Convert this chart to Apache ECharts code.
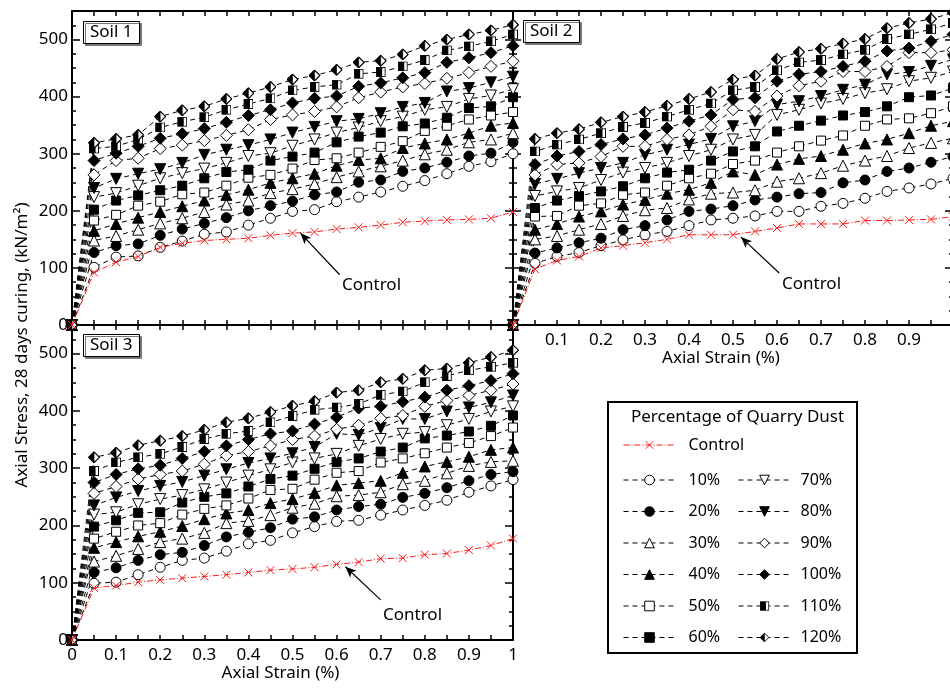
<!DOCTYPE html>
<html><head><meta charset="utf-8">
<script src="https://cdn.jsdelivr.net/npm/echarts@6/dist/echarts.min.js"></script>
<style>html,body{margin:0;padding:0;background:#fff}#c{width:950px;height:691px}</style>
</head><body><div id="c"></div>
<script>
// ---------------- DATA ----------------
const strain = [0,0.05,0.1,0.15,0.2,0.25,0.3,0.35,0.4,0.45,0.5,0.55,0.6,0.65,0.7,0.75,0.8,0.85,0.9,0.95,1];
const pctNames = ['10%','20%','30%','40%','50%','60%','70%','80%','90%','100%','110%','120%'];
const soilNames = ['Soil 1','Soil 2','Soil 3'];

// Soil 1
const s1_control = [0,92,110,120,136,143,148,150,152,157,161,163,168,171,175,180,182,184,185,187,198];
const s1_10  = [0,101,119,121,136,147,159,163,175,187,199,202,216,224,233,243,253,265,278,286,300];
const s1_20  = [0,127,139,142,157,168,178,188,200,209,217,228,233,250,254,269,275,285,296,301,320];
const s1_30  = [0,148,156,167,178,187,198,211,218,231,238,247,259,269,278,288,299,307,320,325,336];
const s1_40  = [0,165,177,188,198,208,218,228,237,249,257,265,279,289,292,310,318,325,336,349,354];
const s1_50  = [0,183,193,209,216,229,232,244,258,263,274,289,292,302,312,322,340,349,360,367,373];
const s1_60  = [0,202,218,227,236,244,257,268,272,288,295,302,320,330,337,348,353,363,380,383,399];
const s1_70  = [0,224,231,244,257,266,274,284,296,301,314,325,337,346,357,365,377,382,396,402,413];
const s1_80  = [0,240,256,265,273,284,298,307,315,325,337,347,357,361,371,382,389,409,415,425,435];
const s1_90  = [0,263,288,292,309,315,323,332,342,360,368,374,382,398,408,417,423,432,442,453,462];
const s1_100 = [0,288,301,313,327,335,344,355,367,377,389,397,401,418,424,433,442,460,468,477,489];
const s1_110 = [0,309,313,325,346,356,364,377,387,397,411,417,421,440,443,453,464,481,488,497,509];
const s1_120 = [0,319,326,333,365,376,383,396,406,417,430,437,447,460,463,474,489,500,509,516,526];

// Soil 2
const s2_control = [0,98,113,120,135,139,144,150,158,158,158,164,170,177,177,177,183,183,184,185,190];
const s2_10  = [0,108,120,127,139,149,158,164,174,184,187,191,199,199,208,213,222,234,240,247,257];
const s2_20  = [0,126,135,144,152,167,174,184,199,203,209,219,224,230,232,249,254,269,275,285,295];
const s2_30  = [0,150,156,167,177,191,201,205,220,230,232,236,251,257,266,279,288,296,310,319,327];
const s2_40  = [0,167,177,190,199,211,219,230,237,249,269,263,281,291,296,307,318,325,336,349,357];
const s2_50  = [0,190,191,209,213,228,232,244,257,265,282,288,302,313,323,332,349,360,362,371,383];
const s2_60  = [0,205,218,226,234,243,257,267,272,288,304,313,339,349,358,367,373,383,399,402,415];
const s2_70  = [0,226,234,240,254,267,275,284,296,307,325,333,368,377,388,396,406,413,427,433,444];
const s2_80  = [0,247,256,266,275,284,298,307,316,326,348,357,386,392,401,412,421,439,443,454,465];
const s2_90  = [0,263,281,284,295,313,313,325,333,348,377,374,401,419,427,444,444,453,477,477,482];
const s2_100 = [0,281,296,304,316,326,333,345,357,368,395,398,427,439,444,453,462,480,485,497,509];
const s2_110 = [0,304,316,325,336,347,354,365,377,388,411,417,446,460,464,474,482,501,509,518,529];
const s2_120 = [0,326,336,343,355,365,373,384,396,408,430,437,466,478,484,493,501,520,529,536,547];

// Soil 3
const s3_control = [0,91,95,101,105,108,111,114,118,122,124,127,132,136,142,143,149,151,157,165,177];
const s3_10  = [0,99,101,114,127,139,143,155,168,174,187,198,207,209,218,227,235,244,258,269,280];
const s3_20  = [0,118,126,139,149,153,165,180,188,196,211,215,227,233,237,249,256,266,278,289,294];
const s3_30  = [0,137,147,159,171,177,187,204,208,218,231,238,251,253,258,272,278,291,304,311,313];
const s3_40  = [0,161,171,181,189,199,211,221,227,239,246,257,270,274,278,292,303,311,320,332,336];
const s3_50  = [0,177,189,200,204,219,229,235,247,262,264,280,292,295,310,317,326,336,344,356,371];
const s3_60  = [0,198,209,222,223,240,250,256,268,281,287,299,311,317,329,336,352,357,364,374,392];
const s3_70  = [0,219,223,237,246,253,263,275,287,298,310,317,325,339,351,360,363,375,386,399,408];
const s3_80  = [0,235,249,260,269,276,287,298,309,317,326,337,360,358,370,386,386,399,406,415,427];
const s3_90  = [0,256,268,281,289,295,307,322,329,339,350,356,368,375,387,392,408,418,427,436,447];
const s3_100 = [0,275,289,299,305,317,329,339,350,360,365,377,389,405,408,416,424,436,444,453,465];
const s3_110 = [0,295,310,319,325,337,351,360,365,380,391,402,406,412,428,434,450,461,471,477,484];
const s3_120 = [0,319,327,340,348,356,367,380,387,398,409,417,432,436,450,456,471,474,484,494,506];

// arrow annotations (data coords): [startX, startY, endX, endY]
const arrow1 = [0.607, 88, 0.518, 161];
const arrow2 = [0.605, 91, 0.518, 154];
const arrow3 = [0.70, 70, 0.62, 128];

const soilControl = [s1_control, s2_control, s3_control];
const soilSeries = [
  [s1_10,s1_20,s1_30,s1_40,s1_50,s1_60,s1_70,s1_80,s1_90,s1_100,s1_110,s1_120],
  [s2_10,s2_20,s2_30,s2_40,s2_50,s2_60,s2_70,s2_80,s2_90,s2_100,s2_110,s2_120],
  [s3_10,s3_20,s3_30,s3_40,s3_50,s3_60,s3_70,s3_80,s3_90,s3_100,s3_110,s3_120]
];
const arrows = [arrow1, arrow2, arrow3];

// ---------------- STYLE ----------------
const FONT = "'Noto Sans', sans-serif";
function svgSym(body){
  return 'image://data:image/svg+xml;charset=utf-8,' + encodeURIComponent(
    "<svg xmlns='http://www.w3.org/2000/svg' width='40' height='40' viewBox='0 0 40 40'>" + body + "</svg>");
}
const symX = svgSym("<path d='M4,4L36,36M36,4L4,36' stroke='#ff1a1a' stroke-width='4' fill='none'/>");
const symHalfSq = svgSym("<rect x='2' y='2' width='36' height='36' fill='#fff' stroke='#000' stroke-width='4'/><rect x='2' y='2' width='24' height='36' fill='#000'/>");
const symHalfDia = svgSym("<polygon points='20,2 38,20 20,38 2,20' fill='#fff' stroke='#000' stroke-width='4'/><polygon points='20,2 20,38 2,20' fill='#000' stroke='#000' stroke-width='2'/>");

const specs = [
  {symbol:'circle', size:10, fill:'#fff'},
  {symbol:'circle', size:10, fill:'#000'},
  {symbol:'triangle', size:11, fill:'#fff'},
  {symbol:'triangle', size:11, fill:'#000'},
  {symbol:'rect', size:9, fill:'#fff'},
  {symbol:'rect', size:9, fill:'#000'},
  {symbol:'triangle', size:11, fill:'#fff', rotate:180},
  {symbol:'triangle', size:11, fill:'#000', rotate:180},
  {symbol:'diamond', size:12, fill:'#fff'},
  {symbol:'diamond', size:12, fill:'#000'},
  {symbol:symHalfSq, size:10, fill:'#000'},
  {symbol:symHalfDia, size:12, fill:'#000'}
];

const grids = [
  {left:72, top:11, width:441, height:314, outerBoundsMode:'none', containLabel:false},
  {left:513, top:11, width:440, height:314, outerBoundsMode:'none', containLabel:false},
  {left:72, top:325, width:441, height:315, outerBoundsMode:'none', containLabel:false}
];

const xAxes = [], yAxes = [];
grids.forEach((g, gi) => {
  const base = {
    type:'value', min:0, max:1, interval:0.1, gridIndex:gi,
    axisLine:{show:true, onZero:false, lineStyle:{color:'#000', width:2}},
    axisTick:{show:true, inside:true, length:5, lineStyle:{color:'#000', width:1.5}},
    minorTick:{show:true, splitNumber:2, length:5, lineStyle:{color:'#000', width:1.5}},
    splitLine:{show:false}, minorSplitLine:{show:false}
  };
  const showLab = gi > 0;
  xAxes.push(Object.assign({}, base, {
    position:'bottom',
    axisLabel:{show:showLab, margin:7, fontSize:17, fontFamily:FONT, color:'#000',
      showMinLabel: gi === 2, showMaxLabel: gi === 2},
    name: showLab ? 'Axial Strain (%)' : '',
    nameLocation:'middle', nameGap:24,
    nameTextStyle:{fontSize:17, fontFamily:FONT, color:'#000', padding:[0,24,0,0]}
  }));
  xAxes.push(Object.assign({}, base, {position:'top', axisLabel:{show:false}}));
  const ybase = {
    type:'value', min:0, max:550, interval:100, gridIndex:gi,
    axisLine:{show:true, onZero:false, lineStyle:{color:'#000', width:2}},
    axisTick:{show:true, inside:true, length:8, lineStyle:{color:'#000', width:1.5}},
    minorTick:{show:true, splitNumber:4, length:4, lineStyle:{color:'#000', width:1.5}},
    splitLine:{show:false}, minorSplitLine:{show:false}
  };
  yAxes.push(Object.assign({}, ybase, {
    position:'left',
    axisLabel:{show: gi !== 1, margin:4, fontSize:17, fontFamily:FONT, color:'#000', showMaxLabel:false}
  }));
  yAxes.push(Object.assign({}, ybase, {position:'right', axisLabel:{show:false}}));
});

const series = [];
for (let gi = 0; gi < 3; gi++) {
  const a = arrows[gi];
  series.push({
    type:'line', name:'Control', xAxisIndex:gi*2, yAxisIndex:gi*2,
    data: strain.map((x,i)=>[x, soilControl[gi][i]]),
    symbol: symX, symbolSize:10, clip:false,
    lineStyle:{color:'#ff1a1a', width:1, type:[6,2,1,2]},
    itemStyle:{color:'#ff1a1a'},
    emphasis:{disabled:true}, z:3,
    markLine:{
      silent:true, symbol:['none','arrow'], symbolSize:[7,11], animation:false,
      label:{show:false}, emphasis:{disabled:true},
      lineStyle:{color:'#000', width:1.2, type:'solid'},
      data:[[{coord:[a[0], a[1]]},{coord:[a[2], a[3]]}]]
    }
  });
  soilSeries[gi].forEach((arr, k) => {
    const sp = specs[k];
    series.push({
      type:'line', name:pctNames[k], xAxisIndex:gi*2, yAxisIndex:gi*2,
      data: strain.map((x,i)=>[x, arr[i]]),
      symbol: sp.symbol, symbolSize: sp.size, symbolRotate: sp.rotate || 0, clip:false,
      lineStyle:{color:'#000', width:1, type:[5,4]},
      itemStyle:{color: sp.fill, borderColor:'#000', borderWidth:1},
      emphasis:{disabled:true}, z:2
    });
  });
}

const legendCommon = {
  orient:'vertical', itemWidth:52, itemHeight:12, padding:0, selectedMode:false,
  itemStyle:{borderWidth:1}, lineStyle:{width:1},
  textStyle:{fontSize:16, fontFamily:FONT, color:'#000', lineHeight:16}
};

const titleCommon = {
  borderWidth:1, borderColor:'#000', backgroundColor:'#fff', padding:[2,7,2,7],
  shadowColor:'#777', shadowOffsetX:2, shadowOffsetY:2, shadowBlur:0,
  textStyle:{fontSize:17, fontWeight:'normal', fontFamily:FONT, color:'#000', lineHeight:19}
};

const option = {
  animation:false,
  backgroundColor:'#fff',
  grid: grids,
  xAxis: xAxes,
  yAxis: yAxes,
  title: [
    Object.assign({text:soilNames[0], left:83, top:21}, titleCommon),
    Object.assign({text:soilNames[1], left:523, top:20}, titleCommon),
    Object.assign({text:soilNames[2], left:83, top:334}, titleCommon)
  ],
  legend: [
    Object.assign({}, legendCommon, {data:['Control'], left:623, top:437,
      textStyle:Object.assign({}, legendCommon.textStyle, {padding:[0,0,0,8]})}),
    Object.assign({}, legendCommon, {data:pctNames.slice(0,6), left:623, top:472, itemGap:15.5,
      textStyle:Object.assign({}, legendCommon.textStyle, {padding:[0,0,0,8]})}),
    Object.assign({}, legendCommon, {data:pctNames.slice(6), left:738, top:472, itemGap:15.5,
      textStyle:Object.assign({}, legendCommon.textStyle, {padding:[0,0,0,5]})})
  ],
  graphic: [
    {type:'rect', shape:{x:608, y:402, width:249, height:251}, style:{fill:'none', stroke:'#000', lineWidth:2}, z:1},
    {type:'text', x:631, y:417, style:{text:'Percentage of Quarry Dust', font:"17px 'Noto Sans', sans-serif", fill:'#000', verticalAlign:'middle', align:'left'}},
    {type:'text', x:22, y:345, rotation:Math.PI/2, style:{text:'Axial Stress, 28 days curing, (kN/m²)', font:"17px 'Noto Sans', sans-serif", fill:'#000', align:'center', verticalAlign:'middle'}},
    {type:'text', x:342, y:285, style:{text:'Control', font:"17px 'Noto Sans', sans-serif", fill:'#000', verticalAlign:'middle'}},
    {type:'text', x:782, y:284, style:{text:'Control', font:"17px 'Noto Sans', sans-serif", fill:'#000', verticalAlign:'middle'}},
    {type:'text', x:383, y:615, style:{text:'Control', font:"17px 'Noto Sans', sans-serif", fill:'#000', verticalAlign:'middle'}}
  ],
  series: series
};

const chart = echarts.init(document.getElementById('c'), null, {renderer:'canvas'});
chart.setOption(option);
</script>
</body></html>
